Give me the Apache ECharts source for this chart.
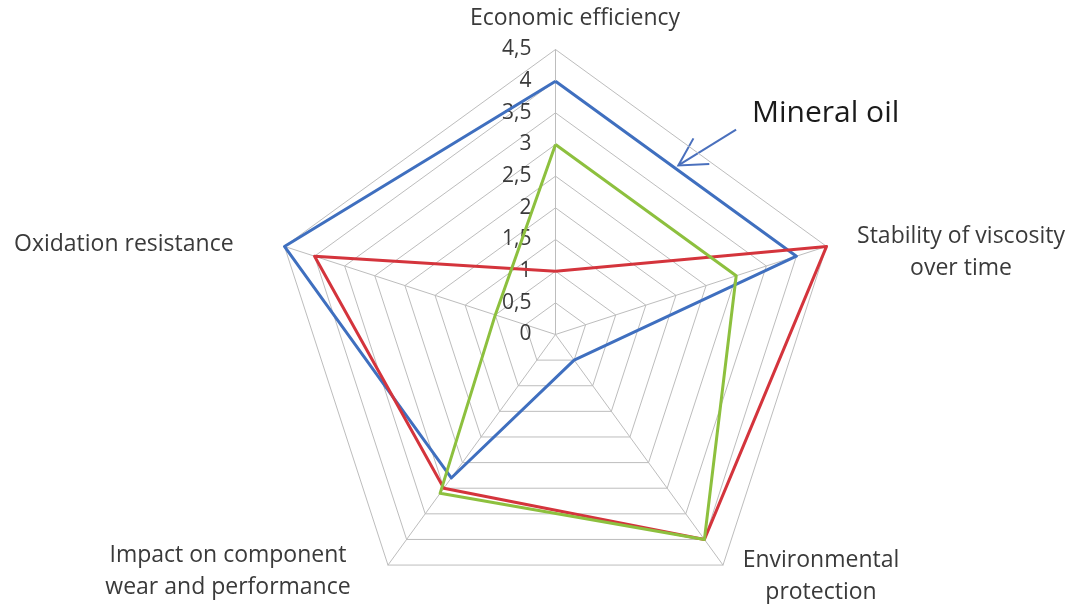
<!DOCTYPE html>
<html>
<head>
<meta charset="utf-8">
<script src="https://cdn.jsdelivr.net/npm/echarts@6/dist/echarts.min.js"></script>
<style>
  html, body { margin: 0; padding: 0; background: #ffffff; }
  #chart { width: 1074px; height: 604px; }
</style>
</head>
<body>
<div id="chart"></div>
<script>
// Criteria, listed in the order the radar lays them out (counter-clockwise from the top)
const categories = [
  'Economic efficiency',
  'Oxidation resistance',
  'Impact on component\nwear and performance',
  'Environmental\nprotection',
  'Stability of viscosity\nover time'
];

// Scores per oil type, same order as the categories
const mineralOil   = [4, 4.5, 2.8, 0.5, 4];
const syntheticOil = [1, 4, 3, 4, 4.5];
const bioOil       = [3, 1, 3.1, 4, 3];

// Radial scale
const scaleMax = 4.5;
const scaleStep = 0.5;
const tickLabels = ['0', '0,5', '1', '1,5', '2', '2,5', '3', '3,5', '4', '4,5'];

const seriesNames = ['Mineral oil', 'Synthetic oil', 'Bio-based oil'];
const seriesColors = ['#3f6fbf', '#d4343c', '#8dc03e'];

// Where each criterion name sits around the web
const namePlacement = [
  { x: 575, y: 18, align: 'center' },
  { x: 14,  y: 244, align: 'left' },
  { x: 228, y: 571, align: 'center' },
  { x: 821, y: 576, align: 'center' },
  { x: 961, y: 252, align: 'center' }
];

const labelFont = '23px "Open Sans", sans-serif';
const textColor = '#3a3a3a';

const chart = echarts.init(document.getElementById('chart'), null, { renderer: 'canvas' });

const option = {
  backgroundColor: '#ffffff',
  animation: false,
  radar: {
    center: [555.5, 334.5],
    radius: 285,
    startAngle: 90,
    shape: 'polygon',
    splitNumber: Math.round(scaleMax / scaleStep),
    axisName: { show: false },
    splitArea: { show: false },
    splitLine: { lineStyle: { color: '#bdbdbd', width: 1 } },
    axisLine: { lineStyle: { color: '#bdbdbd', width: 1 } },
    axisTick: { show: false },
    indicator: categories.map((name, i) => ({
      name: name,
      min: 0,
      max: scaleMax,
      axisLabel: i === 0 ? {
        show: true,
        fontFamily: 'Open Sans',
        fontSize: 21,
        color: textColor,
        margin: 24,
        formatter: (v) => tickLabels[Math.round(v / scaleStep)] ?? String(v).replace('.', ',')
      } : { show: false }
    }))
  },
  series: [{
    type: 'radar',
    symbol: 'none',
    data: [mineralOil, syntheticOil, bioOil].map((vals, k) => ({
      name: seriesNames[k],
      value: vals,
      lineStyle: { color: seriesColors[k], width: 3 },
      itemStyle: { color: seriesColors[k] }
    }))
  }],
  graphic: categories.map((name, i) => ({
    type: 'text',
    silent: true,
    style: {
      text: name,
      x: namePlacement[i].x,
      y: namePlacement[i].y,
      align: namePlacement[i].align,
      verticalAlign: 'middle',
      lineHeight: 32,
      font: labelFont,
      fill: textColor
    }
  }))
};

chart.setOption(option);

// Callout pointing at the mineral oil outline, midway between its top and right-upper vertices
(function addCallout() {
  let p0, p1;
  try {
    const radar = chart.getModel().getComponent('radar').coordinateSystem;
    p0 = radar.dataToPoint(mineralOil[0], 0);
    p1 = radar.dataToPoint(mineralOil[4], 4);
  } catch (e) {
    const R = 285, cx = 555.5, cy = 334.5, step = Math.PI * 2 / categories.length;
    const pt = (v, i) => {
      const a = Math.PI / 2 + i * step, r = v / scaleMax * R;
      return [cx + r * Math.cos(a), cy - r * Math.sin(a)];
    };
    p0 = pt(mineralOil[0], 0);
    p1 = pt(mineralOil[4], 4);
  }
  const mid = [(p0[0] + p1[0]) / 2, (p0[1] + p1[1]) / 2];
  // push the tip a little off the outline, outward
  const ex = p1[0] - p0[0], ey = p1[1] - p0[1];
  const el = Math.hypot(ex, ey);
  let nx = ey / el, ny = -ex / el;
  if (nx < 0) { nx = -nx; ny = -ny; }
  const tip = [mid[0] + nx * 4, mid[1] + ny * 4];
  const dir = Math.atan2(-36, 58);
  const len = 68;
  const tail = [tip[0] + len * Math.cos(dir), tip[1] + len * Math.sin(dir)];
  const head = 31, spread = 29 * Math.PI / 180;
  const b1 = [tip[0] + head * Math.cos(dir - spread), tip[1] + head * Math.sin(dir - spread)];
  const b2 = [tip[0] + head * Math.cos(dir + spread), tip[1] + head * Math.sin(dir + spread)];
  const arrowStyle = { stroke: '#4a70bd', lineWidth: 2, fill: null };

  chart.setOption({
    graphic: option.graphic.concat([
      { type: 'line', silent: true, shape: { x1: tip[0], y1: tip[1], x2: tail[0], y2: tail[1] }, style: arrowStyle },
      { type: 'polyline', silent: true, shape: { points: [b1, tip, b2] }, style: arrowStyle },
      {
        type: 'text',
        silent: true,
        style: {
          text: seriesNames[0],
          x: 752,
          y: 113,
          verticalAlign: 'middle',
          font: '30px "Open Sans", sans-serif',
          fill: '#1a1a1a'
        }
      }
    ])
  });
})();
</script>
</body>
</html>
